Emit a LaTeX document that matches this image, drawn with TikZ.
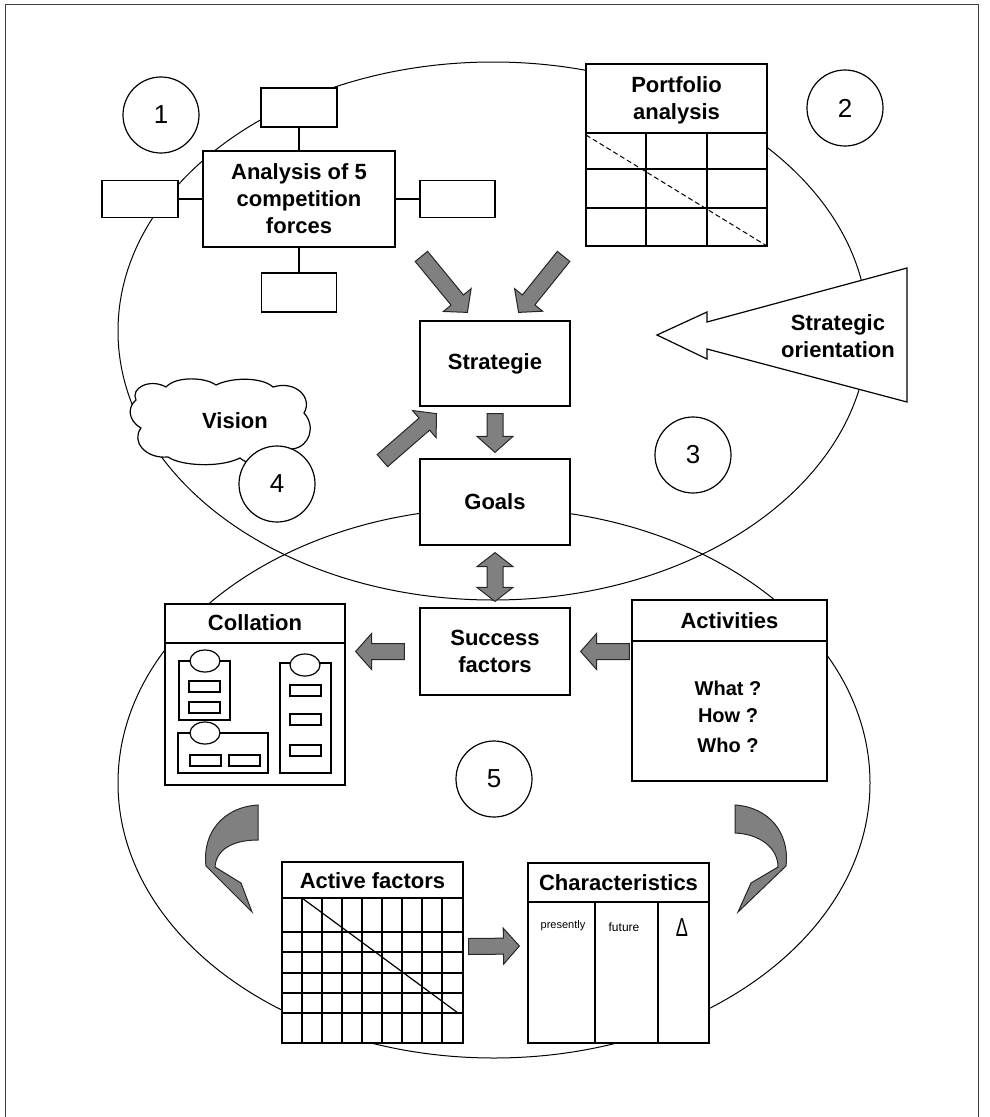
\documentclass[tikz,border=0pt]{standalone}
\usepackage{fontspec}
\setmainfont{Liberation Sans}
\usetikzlibrary{calc}

\tikzset{
  outline/.style={draw=black, line width=1.2pt},
  box/.style={outline, fill=white, rectangle, inner sep=0pt},
  lbl/.style={font=\bfseries\fontsize{22}{27}\selectfont, align=center, inner sep=0pt},
  small/.style={font=\fontsize{11}{13}\selectfont, inner sep=0pt},
  numcirc/.style={outline, fill=white, circle, minimum size=76pt, inner sep=0pt,
    font=\fontsize{26}{26}\selectfont},
  barrow/.style={draw=black!85, fill=black!50, line width=1pt, line join=miter},
  thinline/.style={draw=black, line width=1pt},
}

% straight block arrow from #1 to the tip #2
\newcommand{\blockarrow}[2]{%
  \coordinate (bah) at ($(#2)!16pt!(#1)$);
  \draw[barrow] ($(#1)!8pt!90:(#2)$) -- ($(bah)!8pt!90:(#2)$) -- ($(bah)!18pt!90:(#2)$)
    -- (#2) -- ($(bah)!18pt!-90:(#2)$) -- ($(bah)!8pt!-90:(#2)$) -- ($(#1)!8pt!-90:(#2)$) -- cycle;}
% block arrow with heads at both ends
\newcommand{\dblarrow}[2]{%
  \coordinate (dha) at ($(#1)!14pt!(#2)$);
  \coordinate (dhb) at ($(#2)!14pt!(#1)$);
  \draw[barrow] (#1) -- ($(dha)!18pt!90:(#2)$) -- ($(dha)!8pt!90:(#2)$) -- ($(dhb)!8pt!90:(#2)$)
    -- ($(dhb)!18pt!90:(#2)$) -- (#2) -- ($(dhb)!18pt!-90:(#2)$) -- ($(dhb)!8pt!-90:(#2)$)
    -- ($(dha)!8pt!-90:(#2)$) -- ($(dha)!18pt!-90:(#2)$) -- cycle;}

\begin{document}
\begin{tikzpicture}[x=1pt, y=-1pt]
\useasboundingbox (0,0) rectangle (990,1117);

% page frame, open at the bottom
\draw[line width=1pt, black!75] (5,1117) -- (5,4) -- (978,4) -- (978,1117);

% the two large ellipses
\draw[thinline] (493,331) ellipse [x radius=375, y radius=269];
\draw[thinline] (494,783) ellipse [x radius=376, y radius=275];

% ---- five competition forces
\node[box, lbl, minimum width=192pt, minimum height=96pt] (fivef) at (299,199)
  {Analysis of 5\\competition\\forces};
\node[box, minimum width=76pt, minimum height=39pt] (ftop) at (299,107.5) {};
\node[box, minimum width=76pt, minimum height=37pt] (fleft) at (140,199) {};
\node[box, minimum width=75pt, minimum height=37pt] (fright) at (457.5,199) {};
\node[box, minimum width=75pt, minimum height=39pt] (fbot) at (299,292.5) {};
\draw[outline] (ftop) -- (fivef);
\draw[outline] (fleft) -- (fivef);
\draw[outline] (fright) -- (fivef);
\draw[outline] (fbot) -- (fivef);

% ---- portfolio analysis
\node[box, minimum width=181pt, minimum height=182pt] (port) at (676.5,155) {};
\node[lbl] at (676.5,100) {Portfolio\\analysis};
\draw[outline] (586,133) -- (767,133);
\draw[outline] (646,133) -- (646,246) (707,133) -- (707,246);
\draw[outline] (586,169) -- (767,169) (586,208) -- (767,208);
\draw[thinline, dashed, dash pattern=on 5pt off 3pt] (586,135) -- (767,246);

% ---- strategic orientation
\draw[outline, fill=white, line join=miter] (907,268) -- (707,322) -- (707,312) -- (657,335)
  -- (707,359) -- (707,349) -- (907,402) -- cycle;
\node[lbl] (orient) at (838,336) {Strategic\\orientation};

% ---- vision cloud
\draw[outline, fill=white] (136,400) .. controls (130,388) and (150,378) .. (166,387)
  .. controls (176,376) and (205,377) .. (216,385)
  .. controls (232,377) and (262,377) .. (273,387)
  .. controls (296,380) and (313,398) .. (304,413)
  .. controls (316,426) and (310,447) .. (292,449)
  .. controls (285,466) and (252,469) .. (240,458)
  .. controls (220,468) and (181,466) .. (168,457)
  .. controls (145,459) and (131,441) .. (141,428)
  .. controls (127,420) and (128,406) .. (136,400) -- cycle;
\node[lbl] (vision) at (235,421) {Vision};

% ---- central chain
\node[box, lbl, minimum width=150pt, minimum height=85pt] (strat) at (495,363.5) {Strategie};
\node[box, lbl, minimum width=150pt, minimum height=86pt] (goals) at (495,502) {Goals};
\node[box, lbl, minimum width=150pt, minimum height=87pt] (succ) at (495,651.5) {Success\\factors};

% ---- collation
\node[box, minimum width=180pt, minimum height=181pt] (coll) at (255,694.5) {};
\node[lbl] at (255,623) {Collation};
\draw[outline] (165,643) -- (345,643);
\draw[outline] (179,661) rectangle (230,720);
\draw[outline] (178,733) rectangle (268,773);
\draw[outline] (280,663) rectangle (331,773);
\foreach \cx/\cy in {205/661, 205/733, 305/665}
  \draw[outline, fill=white] (\cx,\cy) ellipse [x radius=15, y radius=11];
\foreach \x/\y in {189/681, 189/702, 190/755, 229/755, 290/685, 290/714, 290/745}
  \draw[outline] (\x,\y) rectangle ++(31,11);

% ---- activities
\node[box, minimum width=195pt, minimum height=181pt] (act) at (729.5,690.5) {};
\node[lbl] at (729.5,621) {Activities};
\draw[outline] (632,641) -- (827,641);
\node[lbl, font=\bfseries\fontsize{20}{24}\selectfont] at (728,688) {What ?};
\node[lbl, font=\bfseries\fontsize{20}{24}\selectfont] at (728,716) {How ?};
\node[lbl, font=\bfseries\fontsize{20}{24}\selectfont] at (728,745) {Who ?};

% ---- active factors
\node[box, minimum width=181pt, minimum height=181pt] (actf) at (372.5,952.5) {};
\node[lbl] at (372.5,881) {Active factors};
\draw[outline] (282,898) -- (463,898);
\foreach \x in {302,322,342,362,382,402,422,442}
  \draw[outline] (\x,898) -- (\x,1043);
\foreach \y in {932,952,973,993,1013}
  \draw[outline] (282,\y) -- (463,\y);
\draw[outline] (302,898) -- (458,1013);

% ---- characteristics
\node[box, minimum width=181pt, minimum height=180pt] (chr) at (618.5,953) {};
\node[lbl] at (618.5,883) {Characteristics};
\draw[outline] (528,902) -- (709,902);
\draw[outline] (595,902) -- (595,1043) (658,902) -- (658,1043);
\node[small] at (563,926) {presently};
\node[small, font=\fontsize{12}{14}\selectfont] at (624,927) {future};
\node[inner sep=0pt] at (682,928) {\scalebox{0.7}[1]{\fontsize{26}{28}\selectfont Δ}};

% ---- numbered circles
\node[numcirc] (n1) at (161,115) {1};
\node[numcirc] (n2) at (845,108) {2};
\node[numcirc] (n3) at (693,455) {3};
\node[numcirc] (n4) at (277,484) {4};
\node[numcirc] (n5) at (494,779) {5};

% ---- block arrows
\coordinate (a1) at ([shift={(2,-64)}]strat.north west);
\coordinate (a1t) at ([shift={(48,-8)}]strat.north west);
\coordinate (a2) at ([shift={(-7,-64)}]strat.north east);
\coordinate (a2t) at ([shift={(-52,-8)}]strat.north east);
\coordinate (a3) at ([shift={(0,7)}]strat.south);
\coordinate (a3t) at ([shift={(0,-6)}]goals.north);
\coordinate (a4) at ([shift={(-37,54)}]strat.south west);
\coordinate (a4t) at ([shift={(17,7)}]strat.south west);
\coordinate (a5) at ([shift={(0,7)}]goals.south);
\coordinate (a5t) at ([shift={(0,-6)}]succ.north);
\coordinate (a6) at ([shift={(-15,0)}]succ.west);
\coordinate (a6t) at ([shift={(10,0)}]coll.east |- succ.west);
\coordinate (a7) at ([shift={(-2,0)}]act.west |- succ.east);
\coordinate (a7t) at ([shift={(10,0)}]succ.east);
\coordinate (a8) at ([shift={(5,-6)}]actf.east);
\coordinate (a8t) at ([shift={(-8,-7)}]chr.west);

\blockarrow{a1}{a1t}
\blockarrow{a2}{a2t}
\blockarrow{a3}{a3t}
\blockarrow{a4}{a4t}
\dblarrow{a5}{a5t}
\blockarrow{a6}{a6t}
\blockarrow{a7}{a7t}
\blockarrow{a8}{a8t}

% ---- curved arrows into the lower boxes
\draw[barrow] (258,805) .. controls (224,807) and (202,832) .. (206,866) -- (252,912)
  -- (241,883) -- (215,867) .. controls (216,850) and (232,840) .. (258,840) -- cycle;
\draw[barrow] (735,805) .. controls (768,807) and (790,832) .. (786,866) -- (738,912)
  -- (751,883) -- (778,867) .. controls (778,848) and (760,834) .. (735,833) -- cycle;
\end{tikzpicture}
\end{document}
